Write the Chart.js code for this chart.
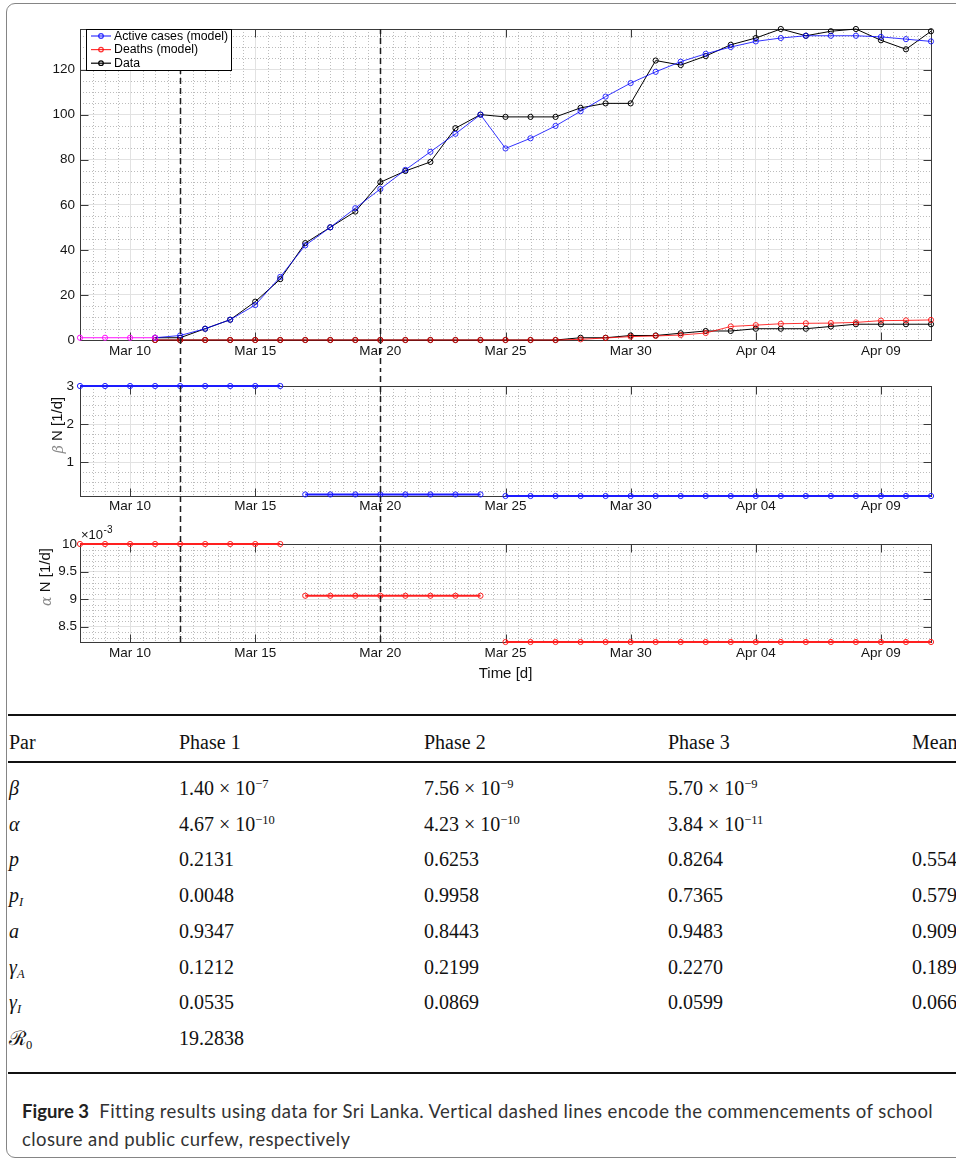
<!DOCTYPE html>
<html>
<head>
<meta charset="utf-8">
<title>Figure 3 – Sri Lanka fit</title>
<script src="https://cdn.jsdelivr.net/npm/chart.js@4/dist/chart.umd.min.js"></script>
<style>
  html, body { margin: 0; padding: 0; background: #fff; }
  body { width: 956px; height: 1161px; position: relative; overflow: hidden; }
  .frame { position: absolute; left: 6px; top: 3px; width: 1200px; height: 1155px;
           border: 1.5px solid #858585; border-radius: 9px; box-sizing: border-box; }
  canvas { position: absolute; left: 0; }
  #cases { top: 0; }
  #beta { top: 368px; }
  #alpha { top: 518px; }
  .rule { position: absolute; left: 8px; width: 1200px; background: #111; }
  .cell { position: absolute; white-space: nowrap; font-family: "Liberation Serif", "DejaVu Serif", serif;
          font-size: 20px; color: #111; line-height: 24px; }
  .cell sup { font-size: 12.5px; vertical-align: 7px; line-height: 0; }
  .cell sub { font-size: 12.5px; vertical-align: -4px; line-height: 0; }
  .cell i { font-style: italic; }
  .caption { position: absolute; left: 22px; top: 1097px; width: 960px; font-family: Lato, "Open Sans", sans-serif;
             font-size: 18.5px; letter-spacing: 0.4px; line-height: 28px; color: #333; white-space: nowrap; }
  .caption b { color: #222; letter-spacing: 0; }
</style>
</head>
<body>
<div class="frame"></div>
<canvas id="cases" width="956" height="368"></canvas>
<canvas id="beta" width="956" height="150"></canvas>
<canvas id="alpha" width="956" height="172"></canvas>
<div id="table"></div>
<div class="caption"><b>Figure 3</b>&nbsp; Fitting results using data for Sri Lanka. Vertical dashed lines encode the commencements of school<br>closure and public curfew, respectively</div>

<script>
// ---- data -------------------------------------------------------------
const days = ['Mar 08','Mar 09','Mar 10','Mar 11','Mar 12','Mar 13','Mar 14','Mar 15','Mar 16','Mar 17',
              'Mar 18','Mar 19','Mar 20','Mar 21','Mar 22','Mar 23','Mar 24','Mar 25','Mar 26','Mar 27',
              'Mar 28','Mar 29','Mar 30','Mar 31','Apr 01','Apr 02','Apr 03','Apr 04','Apr 05','Apr 06',
              'Apr 07','Apr 08','Apr 09','Apr 10','Apr 11'];
const tickDays = ['Mar 10','Mar 15','Mar 20','Mar 25','Mar 30','Apr 04','Apr 09'];
const interventionDays = ['Mar 12','Mar 20'];   // school closure, public curfew

const initialState = [1, 1, 1, 1];
const activeModel = [null, null, null,
  1, 2, 5, 9, 15.5, 28, 42, 50, 58.5, 67, 75.5, 83.5, 91.5, 100, 85, 89.5, 95, 101.5, 108, 114,
  119, 123.5, 127, 130, 132.5, 134, 135, 135, 135, 134.5, 133.5, 132.5];
const deathsModel = [null, null, null,
  0, 0, 0, 0, 0, 0, 0, 0, 0, 0, 0, 0, 0, 0, 0, 0, 0, 0.3, 0.9, 1.5,
  1.8, 2.2, 3.1, 6.0, 6.6, 7.2, 7.4, 7.5, 7.8, 8.6, 8.7, 8.9];
const activeData = [null, null, null,
  1, 1, 5, 9, 17, 27, 43, 50, 57, 70, 75, 79, 94, 100, 99, 99, 99, 103, 105, 105,
  124, 122, 126, 131, 134, 138, 135, 137, 138, 133, 129, 137];
const deathsData = [null, null, null,
  0, 0, 0, 0, 0, 0, 0, 0, 0, 0, 0, 0, 0, 0, 0, 0, 0, 1, 1, 2,
  2, 3, 4, 4, 5, 5, 5, 6, 7, 7, 7, 7];

const phaseStarts = ['Mar 08', 'Mar 17', 'Mar 25'];
const betaN = [3.0, 0.162, 0.122];
const alphaN = [0.0100, 0.00906, 0.00822];

const caseTicks = [0, 20, 40, 60, 80, 100, 120];
const betaTicks = [1, 2, 3];
const alphaTicks = [0.0085, 0.009, 0.0095, 0.01];

// parameter table
const tableHead = ['Par', 'Phase 1', 'Phase 2', 'Phase 3', 'Mean'];
const parNames = ['<i>β</i>', '<i>α</i>', '<i>p</i>', '<i>p</i><sub><i>I</i></sub>', '<i>a</i>',
                  '<i>γ</i><sub><i>A</i></sub>', '<i>γ</i><sub><i>I</i></sub>', 'ℛ<sub>0</sub>'];
const phase1 = ['1.40 × 10<sup>−7</sup>', '4.67 × 10<sup>−10</sup>', '0.2131', '0.0048', '0.9347', '0.1212', '0.0535', '19.2838'];
const phase2 = ['7.56 × 10<sup>−9</sup>', '4.23 × 10<sup>−10</sup>', '0.6253', '0.9958', '0.8443', '0.2199', '0.0869', ''];
const phase3 = ['5.70 × 10<sup>−9</sup>', '3.84 × 10<sup>−11</sup>', '0.8264', '0.7365', '0.9483', '0.2270', '0.0599', ''];
const means  = ['', '', '0.5549', '0.5790', '0.9091', '0.1894', '0.0668', ''];

// ---- helpers ----------------------------------------------------------
const SANS = '"Liberation Sans", Arial, Helvetica, sans-serif';
const idx = d => days.indexOf(d);

function phaseSeries(values, k) {
  const from = idx(phaseStarts[k]);
  const to = k + 1 < phaseStarts.length ? idx(phaseStarts[k + 1]) : days.length;
  return days.map((_, i) => (i >= from && i < to ? values[k] : null));
}

function lineSet(label, data, color, width, radius, extra) {
  return Object.assign({
    label, data,
    borderColor: color, borderWidth: width,
    pointRadius: radius, pointBorderWidth: 1, pointBorderColor: color,
    pointBackgroundColor: 'rgba(0,0,0,0)', pointStyle: 'circle',
    spanGaps: false, tension: 0, clip: false
  }, extra || {});
}

// Box, inward ticks, dotted minor grid and the intervention markers
const matlabAxes = {
  id: 'matlabAxes',
  beforeDatasetsDraw(chart, args, o) {
    const { ctx, chartArea: a, scales: { x, y } } = chart;
    ctx.save();
    ctx.lineWidth = 1;
    ctx.strokeStyle = '#bcbcbc';
    ctx.setLineDash([1, 2]);
    const mx = x.ticks.map(t => t.value);
    for (let k = 0; k * o.xMinor <= x.max - x.min + 1e-9; k++) {
      const v = x.min + k * o.xMinor;
      if (mx.some(m => Math.abs(m - v) < 1e-6)) continue;
      const px = Math.round(x.getPixelForValue(v)) + 0.5;
      ctx.beginPath(); ctx.moveTo(px, a.top); ctx.lineTo(px, a.bottom); ctx.stroke();
    }
    const my = y.ticks.map(t => t.value);
    for (let k = Math.ceil(y.min / o.yMinor - 1e-6); k * o.yMinor <= y.max + o.yMinor * 1e-6; k++) {
      const v = k * o.yMinor;
      if (my.some(m => Math.abs(m - v) < o.yMinor * 1e-3)) continue;
      const py = Math.round(y.getPixelForValue(v)) + 0.5;
      ctx.beginPath(); ctx.moveTo(a.left, py); ctx.lineTo(a.right, py); ctx.stroke();
    }
    ctx.setLineDash([]);
    ctx.strokeStyle = '#3a3a3a';
    const L = Math.round(a.left) + 0.5, R = Math.round(a.right) + 0.5;
    const T = Math.round(a.top) + 0.5, B = Math.round(a.bottom) + 0.5;
    ctx.strokeRect(L, T, R - L, B - T);
    const tl = 8;
    ctx.beginPath();
    mx.forEach(v => {
      const px = Math.round(x.getPixelForValue(v)) + 0.5;
      ctx.moveTo(px, B); ctx.lineTo(px, B - tl);
      ctx.moveTo(px, T); ctx.lineTo(px, T + tl);
    });
    my.forEach(v => {
      const py = Math.round(y.getPixelForValue(v)) + 0.5;
      ctx.moveTo(L, py); ctx.lineTo(L + tl, py);
      ctx.moveTo(R, py); ctx.lineTo(R - tl, py);
    });
    ctx.stroke();
    ctx.restore();
  },
  afterDatasetsDraw(chart, args, o) {
    const { ctx, chartArea: a, scales: { x } } = chart;
    const top = o.dash === 'down' ? a.top : 0;
    const bottom = o.dash === 'up' ? a.bottom + 4 : chart.height;
    ctx.save();
    ctx.strokeStyle = '#1e1e1e';
    ctx.lineWidth = 1.5;
    ctx.setLineDash([6, 4]);
    ctx.lineDashOffset = -(o.offsetTop + top) % 10;
    interventionDays.forEach(d => {
      const px = Math.round(x.getPixelForValue(idx(d))) + 0.5;
      ctx.beginPath(); ctx.moveTo(px, top); ctx.lineTo(px, bottom); ctx.stroke();
    });
    ctx.restore();
  },
  afterDraw(chart, args, o) {
    const ctx = chart.ctx;
    if (o.legend) {
      const lg = o.legend;
      ctx.save();
      ctx.fillStyle = '#fff';
      ctx.fillRect(lg.x, lg.y, lg.w, lg.h);
      ctx.strokeStyle = '#000';
      ctx.lineWidth = 1;
      ctx.strokeRect(lg.x + 0.5, lg.y + 0.5, lg.w, lg.h);
      ctx.font = '12.3px ' + SANS;
      ctx.textBaseline = 'middle';
      lg.items.forEach((k, i) => {
        const ds = chart.data.datasets[k];
        const yy = lg.y + 7 + i * 13.6;
        ctx.strokeStyle = ds.borderColor;
        ctx.lineWidth = 1.2;
        ctx.beginPath(); ctx.moveTo(lg.x + 5, yy); ctx.lineTo(lg.x + 25, yy); ctx.stroke();
        ctx.beginPath(); ctx.arc(lg.x + 15, yy, 2.3, 0, Math.PI * 2); ctx.stroke();
        ctx.fillStyle = '#000';
        ctx.fillText(lg.labels[i], lg.x + 28, yy + 0.5);
      });
      ctx.restore();
    }
    if (o.yTitle) {
      const t = o.yTitle;
      ctx.save();
      ctx.translate(t.x, t.y);
      ctx.rotate(-Math.PI / 2);
      ctx.textBaseline = 'middle';
      const gFont = 'italic 14px "DejaVu Serif", serif';
      const rFont = '15px ' + SANS;
      ctx.font = gFont; const w1 = ctx.measureText(t.greek).width;
      ctx.font = rFont; const w2 = ctx.measureText(t.rest).width;
      let sx = -(w1 + w2) / 2;
      ctx.font = gFont; ctx.fillStyle = '#8a8a8a'; ctx.fillText(t.greek, sx, 1);
      ctx.font = rFont; ctx.fillStyle = '#111'; ctx.fillText(t.rest, sx + w1, 0);
      ctx.restore();
    }
    if (o.exponent) {
      const e = o.exponent;
      ctx.save();
      ctx.fillStyle = '#111';
      ctx.textBaseline = 'middle';
      ctx.font = '13px ' + SANS;
      ctx.fillText('×10', e.x, e.y);
      const w = ctx.measureText('×10').width;
      ctx.font = '10px ' + SANS;
      ctx.fillText('-3', e.x + w + 0.5, e.y - 5);
      ctx.restore();
    }
  }
};
Chart.register(matlabAxes);

function xScale(height, pad) {
  return {
    type: 'category', offset: false,
    grid: { color: '#e2e2e2', drawTicks: false, lineWidth: 1 },
    border: { display: false },
    ticks: { autoSkip: false, maxRotation: 0, minRotation: 0, padding: pad, color: '#151515',
             font: { family: SANS, size: 13.5 } },
    afterBuildTicks: s => { s.ticks = tickDays.map(d => ({ value: idx(d) })); },
    afterFit: s => { s.height = height; }
  };
}
function yScale(min, max, ticks, pad, fmt) {
  return {
    type: 'linear', min, max,
    grid: { color: '#e2e2e2', drawTicks: false, lineWidth: 1 },
    border: { display: false },
    ticks: { padding: pad, color: '#151515', font: { family: SANS, size: 13.5 },
             callback: fmt || (v => String(v)) },
    afterBuildTicks: s => { s.ticks = ticks.map(v => ({ value: v })); },
    afterFit: s => { s.width = 80; }
  };
}
const base = { responsive: false, animation: false, events: [] };

// ---- panel 1: active cases and deaths -------------------------------
new Chart(document.getElementById('cases'), {
  type: 'line',
  data: {
    labels: days,
    datasets: [
      lineSet('Initial state', initialState, '#ff10ff', 1, 2.6),
      lineSet('Active cases (model)', activeModel, 'rgba(0,0,255,0.8)', 1, 2.6),
      lineSet('Deaths (model)', deathsModel, 'rgba(255,0,0,0.8)', 1, 2.6),
      lineSet('Data', activeData, '#000', 1, 2.6),
      lineSet('Data (deaths)', deathsData, '#000', 1, 2.6)
    ]
  },
  options: Object.assign({}, base, {
    layout: { padding: { top: 29, right: 25, left: 0, bottom: 0 } },
    scales: { x: xScale(28, 3), y: yScale(0, 138, caseTicks, 5) },
    plugins: {
      legend: { display: false }, tooltip: { enabled: false },
      matlabAxes: {
        xMinor: 0.5, yMinor: 5, dash: 'down', offsetTop: 0,
        legend: { x: 86, y: 29, w: 145, h: 41, items: [1, 2, 3],
                  labels: ['Active cases (model)', 'Deaths (model)', 'Data'] }
      }
    }
  })
});

// ---- panel 2: beta N --------------------------------------------------
new Chart(document.getElementById('beta'), {
  type: 'line',
  data: {
    labels: days,
    datasets: betaN.map((_, k) => lineSet('βN phase ' + (k + 1), phaseSeries(betaN, k), '#1c1cff', 2, 2.6))
  },
  options: Object.assign({}, base, {
    layout: { padding: { top: 18, right: 25, left: 0, bottom: 0 } },
    scales: { x: xScale(22, 2), y: yScale(Math.min(...betaN), Math.max(...betaN), betaTicks, 6) },
    plugins: {
      legend: { display: false }, tooltip: { enabled: false },
      matlabAxes: { xMinor: 0.5, yMinor: 0.25, dash: 'through', offsetTop: 368,
                    yTitle: { x: 58, y: 57, greek: 'β', rest: ' N [1/d]' } }
    }
  })
});

// ---- panel 3: alpha N -------------------------------------------------
new Chart(document.getElementById('alpha'), {
  type: 'line',
  data: {
    labels: days,
    datasets: alphaN.map((_, k) => lineSet('αN phase ' + (k + 1), phaseSeries(alphaN, k), '#ff2020', 1.8, 2.6))
  },
  options: Object.assign({}, base, {
    layout: { padding: { top: 26, right: 25, left: 0, bottom: 0 } },
    scales: {
      x: Object.assign(xScale(48, 3), {
        title: { display: true, text: 'Time [d]', color: '#111', padding: { top: 0, bottom: 7 },
                 font: { family: SANS, size: 15 } }
      }),
      y: yScale(Math.min(...alphaN), Math.max(...alphaN), alphaTicks, 3, v => String(+(v * 1000).toFixed(1)))
    },
    plugins: {
      legend: { display: false }, tooltip: { enabled: false },
      matlabAxes: { xMinor: 0.5, yMinor: 0.0001, dash: 'up', offsetTop: 518,
                    yTitle: { x: 46, y: 59, greek: 'α', rest: ' N [1/d]' },
                    exponent: { x: 81, y: 17 } }
    }
  })
});

// ---- parameter table --------------------------------------------------
(function buildTable() {
  const host = document.getElementById('table');
  const colX = [9, 179, 424, 668, 912];
  const add = (html, x, cy) => {
    const d = document.createElement('div');
    d.className = 'cell';
    d.style.left = x + 'px';
    d.style.top = (cy - 12) + 'px';
    d.innerHTML = html;
    host.appendChild(d);
  };
  const rule = (y, h) => {
    const r = document.createElement('div');
    r.className = 'rule';
    r.style.top = y + 'px';
    r.style.height = h + 'px';
    host.appendChild(r);
  };
  rule(714, 2);
  rule(761, 1.5);
  rule(1072, 2);
  tableHead.forEach((h, c) => add(h, colX[c], 742));
  const cols = [parNames, phase1, phase2, phase3, means];
  parNames.forEach((_, r) => {
    const cy = 788 + r * 35.7;
    cols.forEach((col, c) => { if (col[r]) add(col[r], colX[c], cy); });
  });
})();
</script>
</body>
</html>
